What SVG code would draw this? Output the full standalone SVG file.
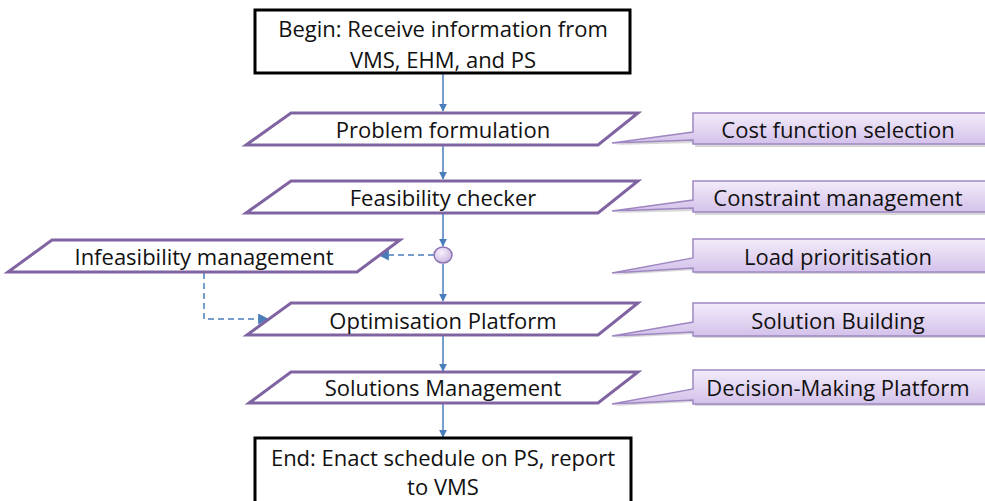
<svg xmlns="http://www.w3.org/2000/svg" width="985" height="501" viewBox="0 0 985 501">
<defs>
<linearGradient id="cg" x1="0" y1="0" x2="0" y2="1">
<stop offset="0" stop-color="#f3ecfa"/>
<stop offset="1" stop-color="#d3c1ea"/>
</linearGradient>
<radialGradient id="dg" cx="0.4" cy="0.35" r="0.7">
<stop offset="0" stop-color="#f6f0fb"/>
<stop offset="1" stop-color="#c9b5e0"/>
</radialGradient>
<marker id="ah" viewBox="0 0 10 10" refX="9" refY="5" markerWidth="8" markerHeight="8" markerUnits="userSpaceOnUse" orient="auto">
<path d="M0,0 L10,5 L0,10 z" fill="#4a7ebb"/>
</marker>
<marker id="ah2" viewBox="0 0 10 10" refX="9" refY="5" markerWidth="11" markerHeight="11" markerUnits="userSpaceOnUse" orient="auto">
<path d="M0,0 L10,5 L0,10 z" fill="#4a7ebb"/>
</marker>
</defs>
<style>
text{font-family:"Open Sans","Noto Sans",sans-serif;font-size:22px;fill:#111;text-anchor:middle;dominant-baseline:central}
.box{fill:#fff;stroke:#000;stroke-width:3}
.para{fill:#fff;stroke:#8064a2;stroke-width:3;stroke-linejoin:miter}
.call{fill:url(#cg);stroke:#9f88c2;stroke-width:1.5}
.sh{fill:#b0b0b0;opacity:0.5}
.ln{stroke:#4a7ebb;stroke-width:1.5;fill:none;marker-end:url(#ah)}
.dl{stroke:#4a7ebb;stroke-width:1.5;fill:none;stroke-dasharray:6,4;marker-end:url(#ah2)}
</style>
<g id="connectors">
<line class="ln" x1="443" y1="74" x2="443" y2="111"/>
<line class="ln" x1="443" y1="146" x2="443" y2="179"/>
<line class="ln" x1="443" y1="214" x2="443" y2="246"/>
<line class="ln" x1="443" y1="264" x2="443" y2="301"/>
<line class="ln" x1="443" y1="336" x2="443" y2="371"/>
<line class="ln" x1="443" y1="403" x2="443" y2="437"/>
<line class="dl" x1="434" y1="255" x2="379" y2="255"/>
<polyline class="dl" points="204,273 204,319 268,319"/>
</g>
<g id="begin">
<rect class="box" x="255" y="10" width="375" height="63"/>
<text x="443" y="28">Begin: Receive information from</text>
<text x="443" y="59">VMS, EHM, and PS</text>
</g>
<g id="problem">
<polygon class="para" points="291,113 638,113 598,145 246,145"/>
<text x="443" y="129">Problem formulation</text>
</g>
<g id="feasibility">
<polygon class="para" points="291,181 638,181 598,213 246,213"/>
<text x="443" y="197">Feasibility checker</text>
</g>
<g id="decision">
<ellipse cx="443" cy="255" rx="9" ry="8" fill="url(#dg)" stroke="#8c74b4" stroke-width="1.5"/>
</g>
<g id="infeasibility">
<polygon class="para" points="52,240 400,240 357,272 8,272"/>
<text x="204" y="256">Infeasibility management</text>
</g>
<g id="optimisation">
<polygon class="para" points="291,303 638,303 598,335 247,335"/>
<text x="443" y="320">Optimisation Platform</text>
</g>
<g id="solutions">
<polygon class="para" points="291,372 638,372 598,403 249,403"/>
<text x="443" y="387">Solutions Management</text>
</g>
<g id="end">
<rect class="box" x="255" y="438" width="376" height="70"/>
<text x="443" y="457">End: Enact schedule on PS, report</text>
<text x="443" y="486">to VMS</text>
</g>
<g id="cost">
<path class="sh" d="M695,115 H987 V147 H695 V143 L614,145 L695,134 Z"/>
<path class="call" d="M693,113 H990 V144 H693 V140 L612,143 L693,132 Z"/>
<text x="838" y="129">Cost function selection</text>
</g>
<g id="constraint">
<path class="sh" d="M695,183 H987 V215 H695 V211 L614,213 L695,202 Z"/>
<path class="call" d="M693,181 H990 V212 H693 V208 L612,211 L693,200 Z"/>
<text x="838" y="197">Constraint management</text>
</g>
<g id="load">
<path class="sh" d="M695,241 H987 V274 H695 V270 L614,275 L695,261 Z"/>
<path class="call" d="M693,239 H990 V272 H693 V268 L612,273 L693,258 Z"/>
<text x="838" y="256">Load prioritisation</text>
</g>
<g id="building">
<path class="sh" d="M695,305 H987 V338 H695 V334 L614,338 L695,325 Z"/>
<path class="call" d="M693,303 H990 V336 H693 V332 L612,336 L693,322 Z"/>
<text x="838" y="320">Solution Building</text>
</g>
<g id="dmp">
<path class="sh" d="M695,372 H987 V406 H695 V402 L614,406 L695,392 Z"/>
<path class="call" d="M693,370 H990 V404 H693 V400 L612,404 L693,389 Z"/>
<text x="838" y="387">Decision-Making Platform</text>
</g>
</svg>
